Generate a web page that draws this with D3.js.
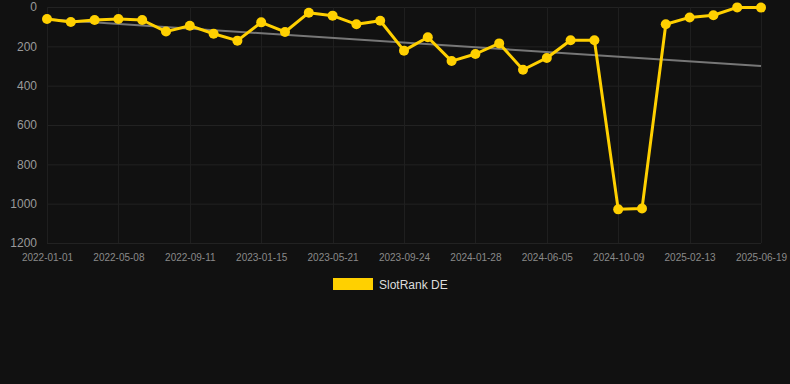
<!DOCTYPE html>
<html><head><meta charset="utf-8">
<script src="https://cdn.jsdelivr.net/npm/d3@7"></script>
<style>html,body{margin:0;padding:0;background:#111111;}svg{display:block;}</style>
</head><body>
<svg id="c" width="790" height="384"></svg>
<script>
const dates = ["2022-01-01","2022-02-12","2022-03-26","2022-05-08","2022-06-19","2022-07-31","2022-09-11","2022-10-23","2022-12-04","2023-01-15","2023-02-26","2023-04-09","2023-05-21","2023-07-02","2023-08-13","2023-09-24","2023-11-05","2023-12-17","2024-01-28","2024-03-10","2024-04-22","2024-06-05","2024-07-17","2024-08-28","2024-10-09","2024-11-20","2025-01-01","2025-02-13","2025-03-27","2025-05-08","2025-06-19"];
const ranks = [61,76,66,61,66,125,95,136,171,78,127,29,44,88,70,222,154,275,239,185,319,259,169,169,1029,1025,88,53,42,2,3];
const trend = [62,300];
const yTicks = [0,200,400,600,800,1000,1200];
const seriesName = "SlotRank DE";
const tickDates = dates.filter((d,i)=>i%3===0);

(function(){
const svg = d3.select("#c");
const pL=47, pR=761, pT=7, pB=243;
const x = d3.scalePoint().domain(dates).range([pL,pR]);
const y = d3.scaleLinear().domain([0,1200]).range([pT,pB]);
const yellow = "#FFD000";

const g = svg.append("g");
g.selectAll("line.h").data(yTicks).join("line")
  .attr("x1",pL).attr("x2",pR).attr("y1",d=>y(d)+0.5).attr("y2",d=>y(d)+0.5)
  .attr("stroke","#222").attr("stroke-width",1);
g.selectAll("line.v").data(tickDates).join("line")
  .attr("x1",d=>Math.round(x(d))+0.5).attr("x2",d=>Math.round(x(d))+0.5).attr("y1",pT).attr("y2",pB)
  .attr("stroke","#1f1f1f").attr("stroke-width",1);

const yAxis = d3.axisLeft(y).tickValues(yTicks).tickFormat(d3.format("d")).tickSize(0).tickPadding(0);
const ya = svg.append("g").attr("transform",`translate(${pL-10},0)`).call(yAxis);
ya.select(".domain").remove();
ya.selectAll("text").attr("fill","#9a9a9a").attr("font-family","Liberation Sans, Arial, sans-serif").attr("font-size",12).attr("text-anchor","end");

const xAxis = d3.axisBottom(x).tickValues(tickDates).tickSize(0).tickPadding(0);
const xa = svg.append("g").attr("transform",`translate(0,${pB+11})`).call(xAxis);
xa.select(".domain").remove();
xa.selectAll("text").attr("fill","#8a8a8a").attr("font-family","Liberation Sans, Arial, sans-serif").attr("font-size",10);

svg.append("line")
  .attr("x1",x(dates[0])).attr("y1",y(trend[0]))
  .attr("x2",x(dates[dates.length-1])).attr("y2",y(trend[1]))
  .attr("stroke","#777").attr("stroke-width",2);

const line = d3.line().x((d,i)=>x(dates[i])).y(d=>y(d));
svg.append("path").datum(ranks).attr("d",line)
  .attr("fill","none").attr("stroke",yellow).attr("stroke-width",3).attr("stroke-linejoin","round");
svg.selectAll("circle.p").data(ranks).join("circle")
  .attr("cx",(d,i)=>x(dates[i])).attr("cy",d=>y(d)).attr("r",5).attr("fill",yellow);

svg.append("rect").attr("x",333).attr("y",278).attr("width",40).attr("height",12).attr("fill",yellow);
svg.append("text").attr("x",379).attr("y",288.5).text(seriesName)
  .attr("fill","#dddddd").attr("font-family","Liberation Sans, Arial, sans-serif").attr("font-size",12);
})();
</script>
</body></html>
